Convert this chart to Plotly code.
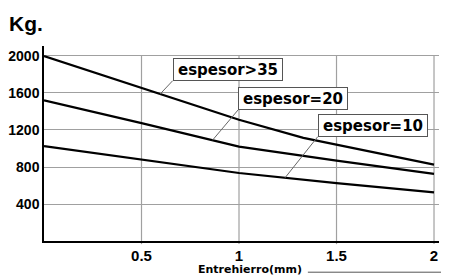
import numpy as np
import plotly.graph_objects as go

# ---- data ----
x_35 = [0.0, 0.62, 1.0, 1.33, 2.0]
y_35 = [2000, 1570, 1310, 1115, 825]
x_20 = [0.0, 0.5, 1.0, 1.5, 2.0]
y_20 = [1520, 1275, 1020, 868, 725]
x_10 = [0.0, 0.5, 1.0, 1.5, 2.0]
y_10 = [1025, 876, 735, 625, 525]

x_ticks = [0.5, 1.0, 1.5, 2.0]
x_tick_text = ["0.5", "1", "1.5", "2"]
y_ticks = [400, 800, 1200, 1600, 2000]
y_tick_text = ["400", "800", "1200", "1600", "2000"]

labels = ["espesor>35", "espesor=20", "espesor=10"]
label_box_pos = [(0.66, 1733), (0.995, 1416), (1.404, 1128)]   # bottom-left of box
leader_x = [0.595, 0.864, 1.236]                                 # where leader meets curve

series = [(x_35, y_35), (x_20, y_20), (x_10, y_10)]

X_MAX = 2.0256
Y_MAX = 2108

fig = go.Figure()
for xs, ys in series:
    fig.add_trace(go.Scatter(x=xs, y=ys, mode="lines",
                             line=dict(color="black", width=2.2),
                             showlegend=False, hoverinfo="skip"))

shapes = []
# vertical gridlines up to 2000, extending slightly below the axis as tick marks
for xv in x_ticks:
    shapes.append(dict(type="line", xref="x", yref="paper", x0=xv, x1=xv,
                       y0=-0.016, y1=max(y_ticks) / Y_MAX,
                       line=dict(color="#a0a0a0", width=1.2), layer="below"))

annotations = []
for lab, (bx, by), lx, (xs, ys) in zip(labels, label_box_pos, leader_x, series):
    cy = float(np.interp(lx, xs, ys))
    shapes.append(dict(type="line", xref="x", yref="y", x0=bx, y0=by, x1=lx, y1=cy,
                       line=dict(color="#666666", width=1)))
    annotations.append(dict(x=bx, y=by, xref="x", yref="y", xanchor="left", yanchor="bottom",
                            text=lab, showarrow=False, width=106, height=19,
                            font=dict(family="DejaVu Sans", size=15, color="black", weight="bold"),
                            bgcolor="white", bordercolor="#555555", borderwidth=1, borderpad=1))

# "Kg." unit title
annotations.append(dict(x=-0.094, y=1.113, xref="paper", yref="paper", xanchor="left",
                        yanchor="middle", text="Kg.", showarrow=False,
                        font=dict(family="Liberation Sans", size=21, color="black", weight="bold")))
# x-axis title
annotations.append(dict(x=0.5215, y=-0.148, xref="paper", yref="paper", xanchor="center",
                        yanchor="middle", text="Entrehierro(mm)", showarrow=False,
                        font=dict(family="DejaVu Sans", size=11, color="black", weight="bold")))
shapes.append(dict(type="line", xref="paper", yref="paper", x0=0.668, x1=1.05, y0=-0.16, y1=-0.16,
                   line=dict(color="#555555", width=1)))

fig.update_layout(
    width=449, height=277,
    margin=dict(l=36, r=18, t=38, b=44, autoexpand=False),
    paper_bgcolor="white", plot_bgcolor="white",
    shapes=shapes, annotations=annotations,
    xaxis=dict(range=[0, X_MAX], tickvals=x_ticks, ticktext=x_tick_text, showgrid=False,
               zeroline=False, showline=True, linecolor="black", linewidth=1.5,
               ticks="", automargin=False,
               tickfont=dict(family="Liberation Sans", size=15, color="black", weight="bold")),
    yaxis=dict(range=[0, Y_MAX], tickvals=y_ticks, ticktext=y_tick_text, showgrid=True,
               gridcolor="#a0a0a0", gridwidth=1.2, zeroline=False, showline=True,
               linecolor="black", linewidth=1.5, ticks="", automargin=False,
               tickfont=dict(family="Liberation Sans", size=14, color="black", weight="bold")),
)

fig.write_html("out.html")
